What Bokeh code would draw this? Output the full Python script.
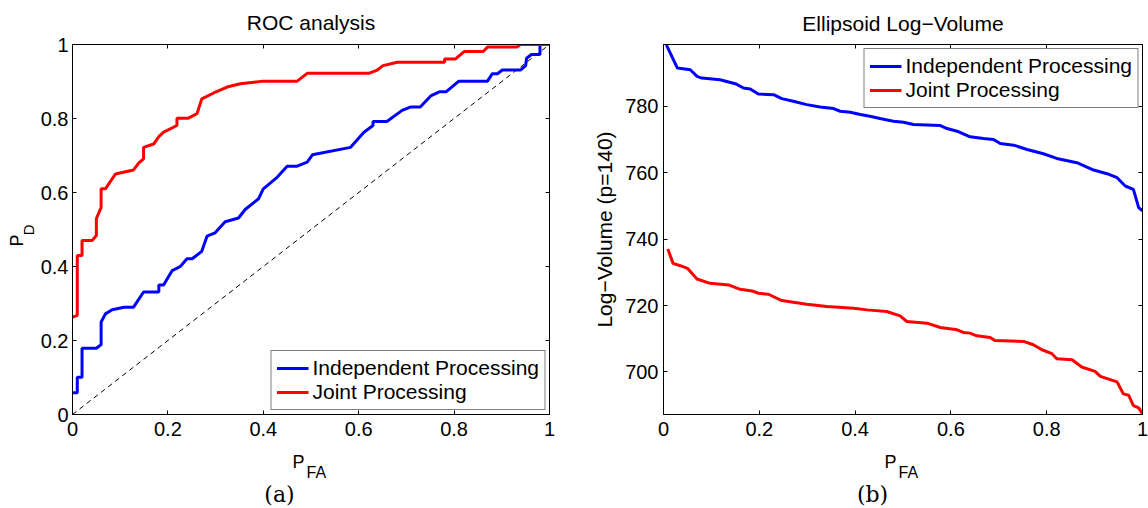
import math
from bokeh.plotting import figure
from bokeh.layouts import row, column
from bokeh.models import Range1d, FixedTicker, CustomJSTickFormatter, LinearAxis
from bokeh.core.properties import value
from bokeh.embed import file_html
from bokeh.resources import INLINE

FONT = "Liberation Sans"
SERIF = "DejaVu Serif"

# ---------------- data: (a) ROC analysis ----------------
roc_ind_x = [0.0, 0.010, 0.010, 0.020, 0.020, 0.050, 0.060, 0.060, 0.069, 0.083, 0.108, 0.128,
             0.149, 0.181, 0.181, 0.191, 0.209, 0.226, 0.240, 0.251, 0.271, 0.282, 0.299, 0.320,
             0.348, 0.362, 0.390, 0.400, 0.429, 0.450, 0.471, 0.492, 0.503, 0.583, 0.611, 0.630,
             0.630, 0.659, 0.691, 0.708, 0.729, 0.751, 0.769, 0.783, 0.810, 0.870, 0.880, 0.891,
             0.901, 0.939, 0.950, 0.952, 0.962, 0.980, 0.980, 1.0]
roc_ind_y = [0.059, 0.059, 0.101, 0.101, 0.179, 0.179, 0.189, 0.250, 0.272, 0.283, 0.290, 0.290,
             0.331, 0.331, 0.350, 0.350, 0.389, 0.400, 0.421, 0.421, 0.441, 0.482, 0.491, 0.521,
             0.531, 0.554, 0.583, 0.610, 0.641, 0.671, 0.671, 0.682, 0.702, 0.722, 0.763, 0.781,
             0.792, 0.792, 0.822, 0.831, 0.831, 0.861, 0.872, 0.872, 0.901, 0.901, 0.921, 0.921,
             0.931, 0.931, 0.943, 0.963, 0.973, 0.973, 1.0, 1.0]

roc_joint_x = [0.0, 0.010, 0.010, 0.020, 0.020, 0.041, 0.050, 0.050, 0.060, 0.060, 0.069, 0.090,
               0.128, 0.139, 0.149, 0.149, 0.170, 0.181, 0.191, 0.219, 0.219, 0.243, 0.261, 0.271,
               0.296, 0.324, 0.352, 0.400, 0.471, 0.492, 0.621, 0.639, 0.651, 0.681, 0.780, 0.780,
               0.803, 0.821, 0.861, 0.870, 0.932, 0.939, 1.0]
roc_joint_y = [0.263, 0.268, 0.430, 0.430, 0.470, 0.470, 0.484, 0.529, 0.560, 0.610, 0.610, 0.650,
               0.661, 0.680, 0.691, 0.722, 0.731, 0.751, 0.763, 0.781, 0.801, 0.801, 0.813, 0.853,
               0.869, 0.885, 0.894, 0.901, 0.901, 0.922, 0.922, 0.931, 0.943, 0.952, 0.952, 0.961,
               0.961, 0.981, 0.981, 0.993, 0.993, 1.0, 1.0]

chance_x = [0.0, 1.0]
chance_y = [0.0, 1.0]

# ---------------- data: (b) Ellipsoid Log-Volume ----------------
vol_ind_x = [0.006, 0.029, 0.056, 0.070, 0.080, 0.118, 0.150, 0.167, 0.181, 0.198, 0.230, 0.247,
             0.271, 0.299, 0.327, 0.355, 0.369, 0.390, 0.411, 0.431, 0.452, 0.480, 0.501, 0.522,
             0.578, 0.592, 0.613, 0.640, 0.668, 0.689, 0.703, 0.731, 0.759, 0.793, 0.821, 0.863,
             0.898, 0.926, 0.947, 0.964, 0.981, 0.992, 1.0]
vol_ind_y = [798.5, 791.5, 791.0, 789.0, 788.5, 788.0, 786.8, 785.5, 785.2, 783.7, 783.5, 782.3,
             781.5, 780.5, 779.8, 779.3, 778.5, 778.2, 777.5, 777.0, 776.3, 775.5, 775.2, 774.5,
             774.2, 773.3, 772.5, 770.8, 770.3, 770.0, 768.8, 768.3, 767.0, 765.7, 764.3, 763.0,
             760.8, 759.7, 758.5, 756.0, 755.0, 749.5, 748.5]

vol_joint_x = [0.009, 0.020, 0.035, 0.050, 0.070, 0.097, 0.136, 0.160, 0.185, 0.198, 0.219, 0.247,
               0.271, 0.299, 0.341, 0.397, 0.425, 0.466, 0.494, 0.508, 0.550, 0.578, 0.613, 0.626,
               0.640, 0.654, 0.682, 0.692, 0.752, 0.772, 0.790, 0.811, 0.821, 0.853, 0.873, 0.901,
               0.912, 0.947, 0.960, 0.971, 0.981, 0.992, 1.0]
vol_joint_y = [737.0, 732.7, 732.0, 731.2, 728.0, 726.7, 726.2, 724.9, 724.4, 723.7, 723.4, 721.5,
               721.0, 720.4, 719.7, 719.2, 718.7, 718.2, 716.9, 715.2, 714.7, 713.4, 712.7, 711.9,
               711.7, 710.9, 710.4, 709.5, 709.2, 708.2, 706.7, 705.5, 704.0, 703.7, 701.5, 700.2,
               698.7, 697.0, 693.4, 693.0, 689.9, 689.2, 687.4]

x_ticks = [0, 0.2, 0.4, 0.6, 0.8, 1.0]
roc_y_ticks = [0, 0.2, 0.4, 0.6, 0.8, 1.0]
vol_y_ticks = [700, 720, 740, 760, 780]
series_names = ["Independent Processing", "Joint Processing"]
series_colors = ["#0000ff", "#ff0000"]
titles = ["ROC analysis", "Ellipsoid Log\u2212Volume"]
vol_ylabel = "Log\u2212Volume (p=140)"
captions = ["(a)", "(b)"]

FMT = "return (Math.round(tick*10)/10).toString();"


def style_axes(p, xticks, yticks, xfmt, yfmt, ystandoff):
    for ax in p.xaxis + p.yaxis:
        ax.axis_line_color = "black"
        ax.axis_line_width = 1
        ax.major_tick_line_color = "black"
        ax.major_tick_in = 4
        ax.major_tick_out = 0
        ax.minor_tick_line_color = None
        ax.major_label_text_font = FONT
        ax.major_label_text_font_size = "20px"
        ax.major_label_text_color = "black"
    p.xaxis.ticker = FixedTicker(ticks=xticks)
    p.yaxis.ticker = FixedTicker(ticks=yticks)
    if xfmt:
        p.xaxis.formatter = CustomJSTickFormatter(code=xfmt)
    if yfmt:
        p.yaxis.formatter = CustomJSTickFormatter(code=yfmt)
    p.xaxis.major_label_standoff = 7
    p.yaxis.major_label_standoff = ystandoff
    for loc, ticks in (("above", xticks), ("right", yticks)):
        ax = LinearAxis(ticker=FixedTicker(ticks=ticks))
        ax.axis_line_color = "black"
        ax.major_tick_line_color = "black"
        ax.major_tick_in = 4
        ax.major_tick_out = 0
        ax.minor_tick_line_color = None
        ax.major_label_text_font_size = "0px"
        ax.major_label_text_color = None
        ax.major_label_standoff = 0
        p.add_layout(ax, loc)
    p.grid.visible = False
    p.outline_line_color = "black"
    p.background_fill_color = "white"
    p.border_fill_color = "white"
    p.title.align = "center"
    p.title.vertical_align = "top"
    p.title.text_font = FONT
    p.title.text_font_size = "21px"
    p.title.text_font_style = "normal"
    p.title.text_color = "black"


def style_legend(p, loc):
    lg = p.legend[0]
    lg.location = loc
    lg.margin = 4
    lg.padding = 5
    lg.spacing = 0
    lg.label_standoff = 4
    lg.glyph_width = 32
    lg.glyph_height = 22
    lg.label_height = 22
    lg.label_text_font = FONT
    lg.label_text_font_size = "21px"
    lg.label_text_line_height = 1.0
    lg.label_text_color = "black"
    lg.border_line_color = "black"
    lg.border_line_width = 1
    lg.background_fill_color = "white"
    lg.background_fill_alpha = 1.0


def text_strip(w, h):
    s = figure(width=w, height=h, x_range=Range1d(0, w), y_range=Range1d(h, 0),
               x_axis_type=None, y_axis_type=None, min_border=0,
               toolbar_location=None, output_backend="svg")
    s.outline_line_color = None
    s.background_fill_color = "white"
    s.border_fill_color = "white"
    return s


def put(s, x, y, txt, size, font=FONT, align="left", baseline="alphabetic", angle=0.0):
    s.text(x=[x], y=[y], text=[txt], angle=angle, text_font=value(font), text_font_size=size,
           text_align=align, text_baseline=baseline, text_color="black")


TOP_H = 444
LEFT_W = 36

# ---------------- figure (a) ----------------
pa = figure(width=574 - LEFT_W, height=TOP_H, min_border_left=72 - LEFT_W, min_border_right=25,
            min_border_top=44, min_border_bottom=30, x_range=Range1d(0, 1), y_range=Range1d(0, 1),
            output_backend="svg", toolbar_location=None, title=titles[0])
pa.line(chance_x, chance_y, line_color="black", line_width=1, line_dash="5 4")
pa.line(roc_ind_x, roc_ind_y, line_color=series_colors[0], line_width=3, legend_label=series_names[0])
pa.line(roc_joint_x, roc_joint_y, line_color=series_colors[1], line_width=3, legend_label=series_names[1])
style_axes(pa, x_ticks, roc_y_ticks, FMT, FMT, 4)
style_legend(pa, "bottom_right")
pa.title.standoff = 17

# ---------------- figure (b) ----------------
pb = figure(width=574, height=TOP_H, min_border_left=89, min_border_right=6,
            min_border_top=42, min_border_bottom=30, x_range=Range1d(0, 1),
            y_range=Range1d(687.2, 798.6),
            output_backend="svg", toolbar_location=None, title=titles[1])
pb.line(vol_ind_x, vol_ind_y, line_color=series_colors[0], line_width=3, legend_label=series_names[0])
pb.line(vol_joint_x, vol_joint_y, line_color=series_colors[1], line_width=3, legend_label=series_names[1])
style_axes(pb, x_ticks, vol_y_ticks, FMT, None, 5)
style_legend(pb, "top_right")
pb.title.standoff = 15
pb.yaxis[0].axis_label = vol_ylabel
pb.yaxis[0].axis_label_text_font = FONT
pb.yaxis[0].axis_label_text_font_size = "21px"
pb.yaxis[0].axis_label_text_font_style = "normal"
pb.yaxis[0].axis_label_text_color = "black"
pb.yaxis[0].axis_label_standoff = 6

# ---------------- text strips: axis labels with subscripts, captions ----------------
left_strip = text_strip(LEFT_W, TOP_H)
put(left_strip, 16, 228, "P", "18px", align="right", angle=math.pi / 2)
put(left_strip, 28, 216, "D", "15px", align="right", angle=math.pi / 2)

bottom_strip = text_strip(1148, 508 - TOP_H)
put(bottom_strip, 292, 17, "P", "18px")
put(bottom_strip, 306, 28, "FA", "16px")
put(bottom_strip, 884, 17, "P", "18px")
put(bottom_strip, 898, 28, "FA", "16px")
put(bottom_strip, 279, 50, captions[0], "22px", font=SERIF, align="center", baseline="middle")
put(bottom_strip, 872, 50, captions[1], "22px", font=SERIF, align="center", baseline="middle")

layout = column(row(left_strip, pa, pb), bottom_strip)
open("out.html", "w").write(file_html(layout, INLINE))
